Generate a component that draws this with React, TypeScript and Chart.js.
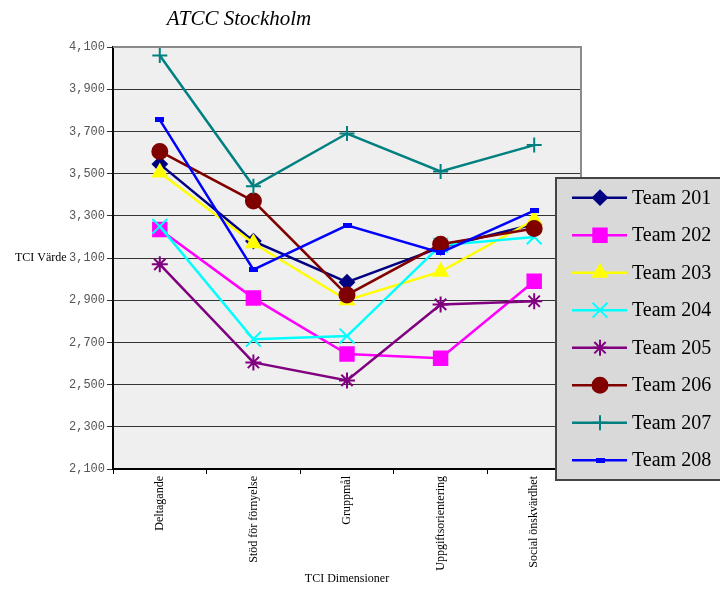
import React, { useEffect, useRef } from 'react';
import { Chart, registerables } from 'chart.js';
import { drawPoint } from 'chart.js/helpers';

Chart.register(...registerables);

const categories = ['Deltagande', 'Stöd för förnyelse', 'Gruppmål', 'Uppgiftsorientering', 'Social önskvärdhet'];
const teamNames = ['Team 201', 'Team 202', 'Team 203', 'Team 204', 'Team 205', 'Team 206', 'Team 207', 'Team 208'];
const team201 = [3545, 3180, 2985, 3150, 3260];
const team202 = [3235, 2910, 2645, 2625, 2990];
const team203 = [3505, 3170, 2900, 3035, 3280];
const team204 = [3250, 2715, 2730, 3160, 3200];
const team205 = [3070, 2605, 2520, 2880, 2895];
const team206 = [3605, 3370, 2925, 3165, 3240];
const team207 = [4060, 3440, 3690, 3510, 3635];
const team208 = [3755, 3045, 3255, 3125, 3325];
const seriesValues = [team201, team202, team203, team204, team205, team206, team207, team208];
const yMin = 2100;
const yMax = 4100;
const yStep = 200;

const colors = ['#000080', '#ff00ff', '#ffff00', '#00ffff', '#800080', '#800000', '#008080', '#0000ff'];
const styles: any[] = ['rectRot', 'rect', 'triangle', 'crossRot', 'star', 'circle', 'cross', 'image'];
const radii = [7, 9.5, 8, 10.5, 8, 7.5, 7.5, 5];

export default function App() {
  const ref = useRef<HTMLCanvasElement | null>(null);

  useEffect(() => {
    if (!ref.current) return;
    const img = document.createElement('canvas');
    img.width = 9;
    img.height = 5;
    const ictx = img.getContext('2d')!;
    ictx.fillStyle = '#0000ff';
    ictx.fillRect(0, 0, 9, 5);
    const pStyles = styles.map((s) => (s === 'image' ? img : s));

    const bgPlugin = {
      id: 'bgPlugin',
      beforeDraw(chart: any) {
        const { ctx, chartArea: a } = chart;
        ctx.save();
        ctx.fillStyle = '#efefef';
        ctx.fillRect(a.left, a.top, a.right - a.left, a.bottom - a.top);
        ctx.restore();
      },
      afterDraw(chart: any) {
        const { ctx, chartArea: a } = chart;
        ctx.save();
        ctx.strokeStyle = '#8a8a8a';
        ctx.lineWidth = 2;
        ctx.beginPath();
        ctx.moveTo(a.left, a.top);
        ctx.lineTo(a.right, a.top);
        ctx.lineTo(a.right, a.bottom);
        ctx.stroke();
        ctx.fillStyle = '#000';
        ctx.font = 'italic 21px "Liberation Serif"';
        ctx.textAlign = 'center';
        ctx.textBaseline = 'middle';
        ctx.fillText('ATCC Stockholm', 239, 19);
        ctx.font = '12px "Liberation Serif"';
        ctx.textAlign = 'left';
        ctx.fillText('TCI Värde', 15, 258);
        const lx = 556, ly = 178, lw = 180, lh = 302;
        ctx.fillStyle = '#d9d9d9';
        ctx.fillRect(lx, ly, lw, lh);
        ctx.strokeStyle = '#444';
        ctx.lineWidth = 2;
        ctx.strokeRect(lx, ly, lw, lh);
        for (let i = 0; i < teamNames.length; i++) {
          const y = 197.7 + i * 37.5;
          ctx.strokeStyle = colors[i];
          ctx.lineWidth = 2.5;
          ctx.beginPath();
          ctx.moveTo(572, y);
          ctx.lineTo(627, y);
          ctx.stroke();
          ctx.fillStyle = colors[i];
          ctx.strokeStyle = colors[i];
          ctx.lineWidth = 2;
          drawPoint(ctx, { pointStyle: pStyles[i], rotation: 0, radius: radii[i], borderWidth: 2 } as any, 600, y);
          ctx.fillStyle = '#000';
          ctx.font = '20px "Liberation Serif"';
          ctx.textAlign = 'left';
          ctx.textBaseline = 'middle';
          ctx.fillText(teamNames[i], 632, y + 1);
        }
        ctx.restore();
      },
    };

    const chart = new Chart(ref.current, {
      type: 'line',
      data: {
        labels: categories,
        datasets: seriesValues.map((vals, i) => ({
          label: teamNames[i],
          data: vals,
          borderColor: colors[i],
          backgroundColor: colors[i],
          pointBackgroundColor: colors[i],
          pointBorderColor: colors[i],
          pointBorderWidth: 2,
          pointStyle: pStyles[i],
          pointRadius: radii[i],
          borderWidth: 2.5,
          tension: 0,
          fill: false,
          order: teamNames.length - i,
        })),
      },
      options: {
        animation: false,
        responsive: false,
        devicePixelRatio: 1,
        layout: { padding: { left: 0, right: 139, top: 47, bottom: 0 } },
        plugins: {
          legend: { display: false },
          title: { display: false },
          tooltip: { enabled: false },
        },
        scales: {
          x: {
            type: 'category',
            offset: true,
            grid: { display: true, offset: true, drawOnChartArea: false, drawTicks: true, tickLength: 5, color: '#000', lineWidth: 1 },
            border: { display: true, color: '#000', width: 2 },
            ticks: {
              minRotation: 90,
              maxRotation: 90,
              padding: 2,
              color: '#000',
              font: { family: '"Liberation Serif"', size: 12 },
              autoSkip: false,
            },
            title: {
              display: true,
              text: 'TCI Dimensioner',
              color: '#000',
              font: { family: '"Liberation Serif"', size: 12 },
              padding: { top: 0, bottom: 3 },
            },
            afterFit(scale: any) {
              scale.height = 120;
            },
          },
          y: {
            min: yMin,
            max: yMax,
            grid: { color: '#333', lineWidth: 1, drawTicks: true, tickLength: 6 },
            border: { display: true, color: '#000', width: 2 },
            ticks: {
              stepSize: yStep,
              padding: 2,
              color: '#555',
              font: { family: '"Liberation Mono"', size: 12 },
              callback: (v: any) => Number(v).toLocaleString('en-US'),
            },
            afterFit(scale: any) {
              scale.width = 113;
            },
          },
        },
      },
      plugins: [bgPlugin],
    });
    return () => chart.destroy();
  }, []);

  return (
    <div style={{ position: 'fixed', left: 0, top: 0, width: 720, height: 589, background: '#fff' }}>
      <canvas ref={ref} width={720} height={589} style={{ display: 'block', width: 720, height: 589 }} />
    </div>
  );
}
